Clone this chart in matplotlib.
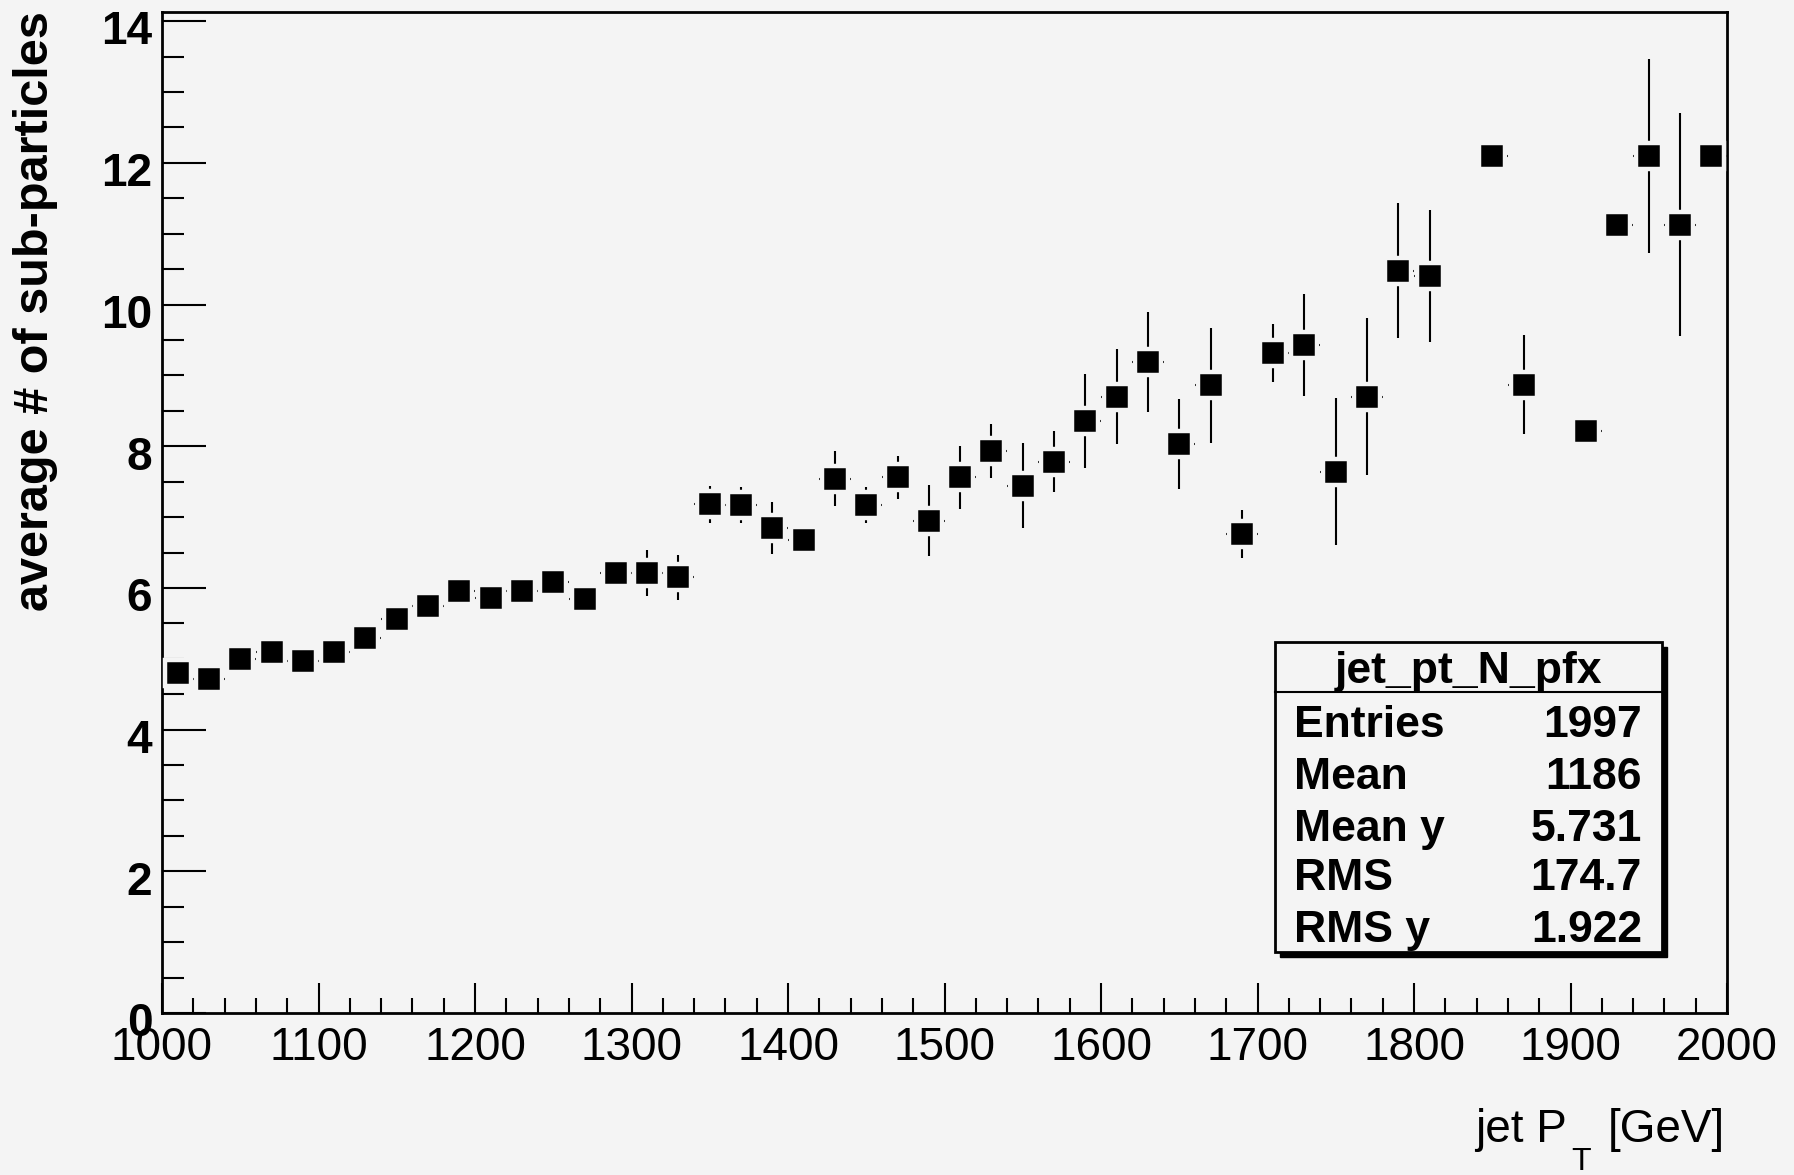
import numpy as np
import matplotlib
matplotlib.use("Agg")
import matplotlib.pyplot as plt
import matplotlib.transforms as mtransforms
from matplotlib.patches import Rectangle
from matplotlib.ticker import MultipleLocator

plt.rcParams['font.family'] = ['Liberation Sans', 'DejaVu Sans']

# ==============================================================================
# profile data (bin centres, mean, error on mean); bins 1830 and 1890 are empty
jet_pt = [1010, 1030, 1050, 1070, 1090, 1110, 1130, 1150, 1170, 1190,
          1210, 1230, 1250, 1270, 1290, 1310, 1330,
          1350, 1370, 1390, 1410, 1430, 1450, 1470, 1490, 1510, 1530, 1550,
          1570, 1590, 1610, 1630, 1650, 1670, 1690,
          1710, 1730, 1750, 1770, 1790, 1810,
          1850, 1870, 1910, 1930, 1950, 1970, 1990]
n_sub = [4.80, 4.72, 5.00, 5.09, 4.97, 5.09, 5.29, 5.56, 5.74, 5.95,
         5.86, 5.96, 6.08, 5.84, 6.21, 6.21, 6.15,
         7.18, 7.17, 6.85, 6.68, 7.54, 7.17, 7.56, 6.95, 7.56, 7.93, 7.44,
         7.78, 8.36, 8.70, 9.19, 8.03, 8.86, 6.76,
         9.32, 9.43, 7.64, 8.70, 10.48, 10.40,
         12.10, 8.87, 8.21, 11.13, 12.10, 11.13, 12.10]
n_sub_err = [0.10, 0.11, 0.11, 0.12, 0.12, 0.12, 0.13, 0.13, 0.14, 0.15,
             0.20, 0.20, 0.20, 0.21, 0.15, 0.33, 0.32,
             0.26, 0.26, 0.37, 0.20, 0.39, 0.26, 0.30, 0.50, 0.44, 0.38, 0.60,
             0.43, 0.66, 0.67, 0.70, 0.64, 0.81, 0.34,
             0.41, 0.72, 1.04, 1.11, 0.95, 0.93,
             0.0, 0.70, 0.0, 0.0, 1.37, 1.58, 0.0]
bin_half_width = 10

stats_title = "jet_pt_N_pfx"
stats_names = ["Entries", "Mean", "Mean y", "RMS", "RMS y"]
stats_values = ["1997", "1186", "5.731", "174.7", "1.922"]

# ==============================================================================
W, H = 1794, 1175
bg = '#f4f4f4'

def fx(px):
    return px / W

def fy(py):
    return 1 - py / H

fig = plt.figure(figsize=(W / 100, H / 100), dpi=100, facecolor=bg)
ax = fig.add_axes([fx(162), fy(1013), fx(1727) - fx(162), fy(12) - fy(1013)])
ax.set_facecolor(bg)

ax.errorbar(jet_pt, n_sub, yerr=n_sub_err, xerr=bin_half_width, fmt='none',
            ecolor='black', elinewidth=1.5, capsize=0, zorder=2)
ax.plot(jet_pt, n_sub, linestyle='none', marker='s', markersize=18.2,
        markerfacecolor='black', markeredgecolor=bg, markeredgewidth=3.2, zorder=3)

ax.set_xlim(1000, 2000)
ax.set_ylim(0, 14.13)
ax.set_xticks(np.arange(1000, 2001, 100))
ax.set_yticks(np.arange(0, 15, 2))
ax.xaxis.set_minor_locator(MultipleLocator(20))
ax.yaxis.set_minor_locator(MultipleLocator(0.5))

ax.tick_params(axis='x', which='major', direction='in', length=21.6, width=1.5,
               labelsize=33, pad=9.5, top=False)
ax.tick_params(axis='x', which='minor', direction='in', length=10.8, width=1.5, top=False)
ax.tick_params(axis='y', which='major', direction='in', length=32, width=1.5,
               labelsize=33, pad=7, right=False)
ax.tick_params(axis='y', which='minor', direction='in', length=16, width=1.5, right=False)
shift_down = mtransforms.ScaledTranslation(0, -4.5 / 72, fig.dpi_scale_trans)
for lab in ax.get_yticklabels():
    lab.set_fontweight('bold')
    lab.set_transform(lab.get_transform() + shift_down)

for side in ['left', 'bottom', 'top', 'right']:
    ax.spines[side].set_linewidth(2)

# axis titles (ROOT style: at the end of the axes)
fig.text(fx(36), fy(11), "average # of sub-particles", rotation=90,
         ha='center', va='top', fontsize=35, fontweight='bold')
fig.text(fx(1567), fy(1142), "jet P", ha='right', va='baseline', fontsize=33)
fig.text(fx(1571), fy(1170), "T", ha='left', va='baseline', fontsize=23)
fig.text(fx(1725), fy(1142), "[GeV]", ha='right', va='baseline', fontsize=33)

# ==============================================================================
# stats box
bx0, bx1, by0, by1 = 1275, 1662, 642, 952
shadow = Rectangle((fx(bx0 + 5), fy(by1 + 5)), fx(bx1) - fx(bx0), fy(by0) - fy(by1),
                   transform=fig.transFigure, facecolor='black', edgecolor='black', zorder=5)
box = Rectangle((fx(bx0), fy(by1)), fx(bx1) - fx(bx0), fy(by0) - fy(by1),
                transform=fig.transFigure, facecolor=bg, edgecolor='black',
                linewidth=2, zorder=6)
fig.add_artist(shadow)
fig.add_artist(box)
fig.add_artist(plt.Line2D([fx(bx0), fx(bx1)], [fy(692), fy(692)],
                          transform=fig.transFigure, color='black', linewidth=1.5, zorder=7))
fig.text(fx((bx0 + bx1) / 2), fy(683), stats_title, ha='center', va='baseline',
         fontsize=32, fontweight='bold', zorder=8)
row_base = [737, 789, 841, 890, 942]
for name, val, yb in zip(stats_names, stats_values, row_base):
    fig.text(fx(1294), fy(yb), name, ha='left', va='baseline', fontsize=32,
             fontweight='bold', zorder=8)
    fig.text(fx(1642), fy(yb), val, ha='right', va='baseline', fontsize=32,
             fontweight='bold', zorder=8)

fig.savefig("out.png", dpi=100, facecolor=bg)
